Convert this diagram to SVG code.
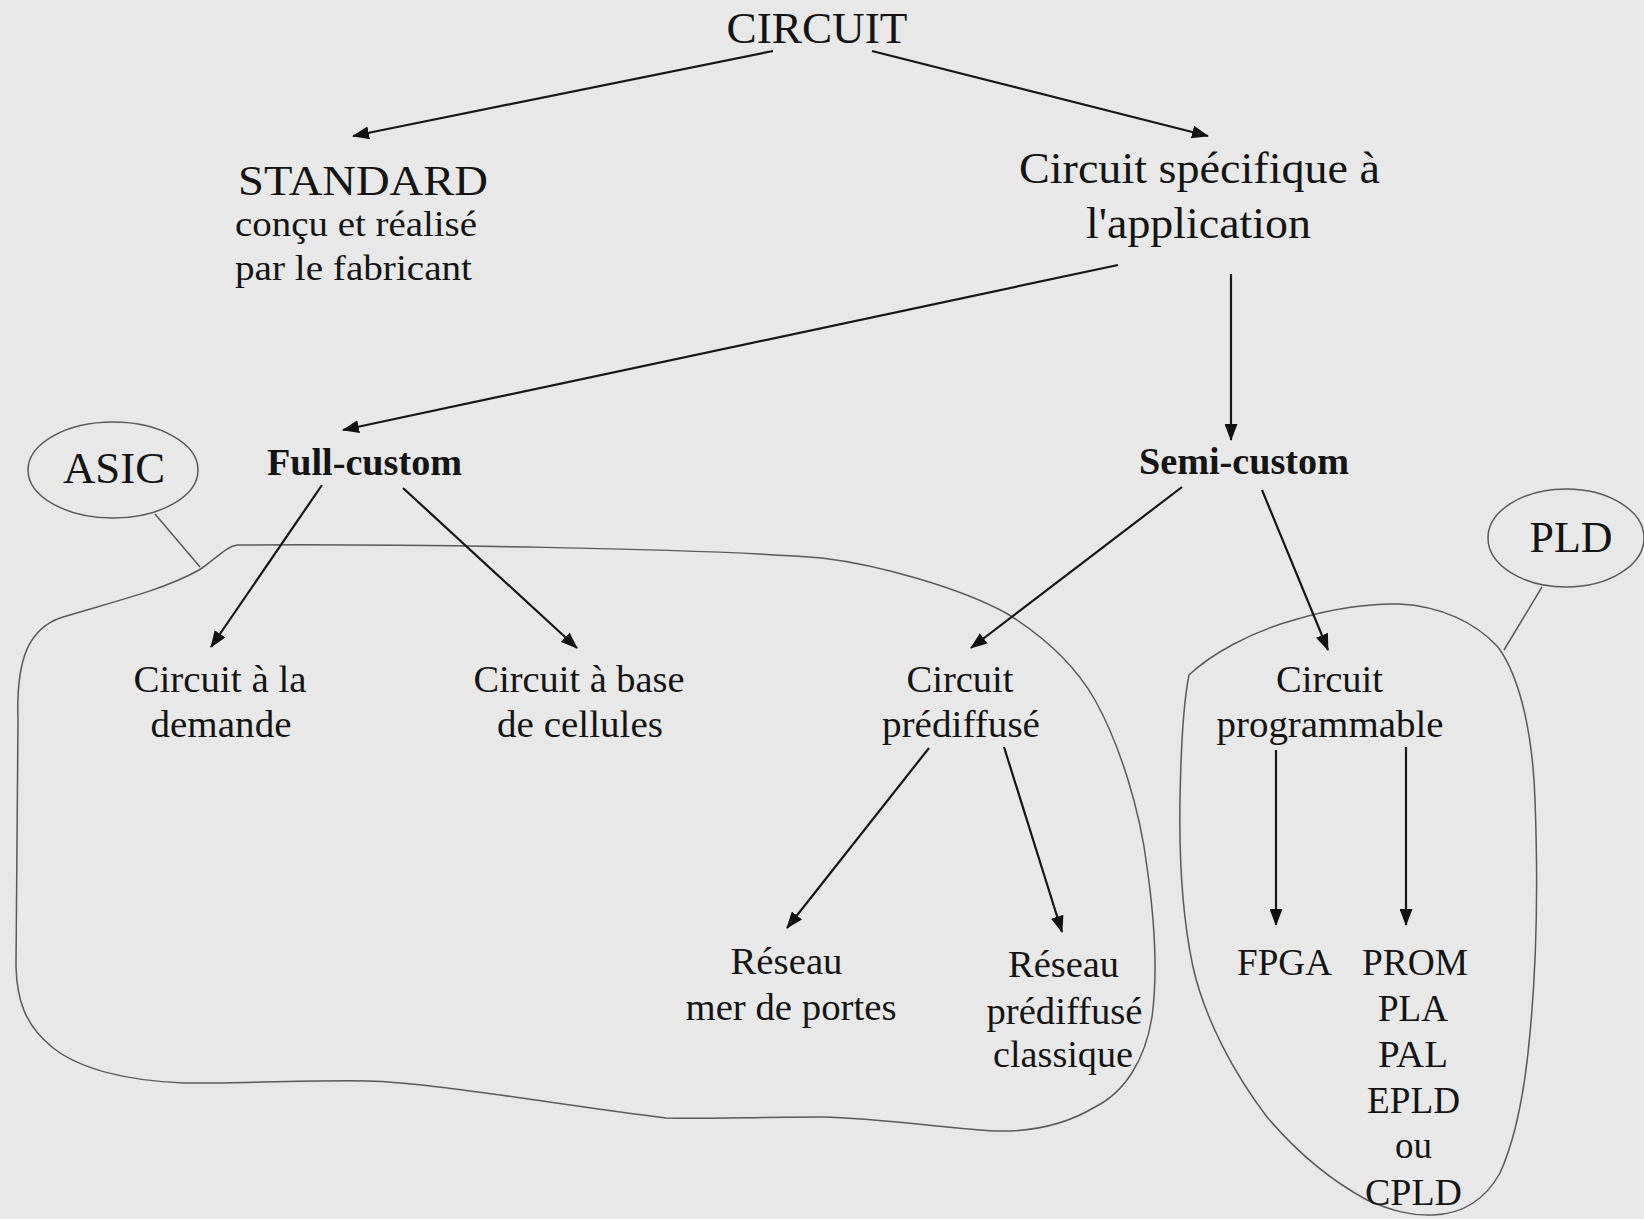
<svg xmlns="http://www.w3.org/2000/svg" width="1644" height="1219" viewBox="0 0 1644 1219">
  <style>
    text { font-family: "Liberation Serif", "Times New Roman", serif; fill: #141414; text-anchor: middle; }
    .big { font-size: 45px; }
    .std { font-size: 42px; }
    .sub { font-size: 35px; }
    .lbl { font-size: 37px; }
    .bold { font-size: 38px; font-weight: bold; }
    .edge { stroke: #161616; stroke-width: 2.2; fill: none; marker-end: url(#arrow); }
    .outline { stroke: #5a5a5a; stroke-width: 1.5; fill: none; }
  </style>
  <defs>
    <marker id="arrow" viewBox="0 0 17 13" refX="16" refY="6.5" markerWidth="17" markerHeight="13" markerUnits="userSpaceOnUse" orient="auto">
      <path d="M0,0 L17,6.5 L0,13 Z" fill="#111"/>
    </marker>
  </defs>

  <rect width="1644" height="1219" fill="#e8e8e8"/>

  <!-- grouping outlines -->
  <g id="asic-group">
    <path class="outline" d="M237,545 C400,544 700,548 822,558 C880,565 960,588 1006,613 C1045,637 1075,665 1095,700 C1120,745 1140,810 1147,867 C1156,930 1157,980 1152,1017 C1145,1060 1125,1092 1095,1107 C1065,1125 1030,1132 995,1131 C950,1129 880,1118 822,1117 C760,1117 700,1119 666,1118 C560,1105 430,1082 367,1081 C300,1080 230,1084 184,1083 C130,1081 80,1070 52,1047 C25,1025 17,1000 16,967 L18,720 C16,660 28,628 63,617 C100,605 160,592 199,570 C215,560 225,547 237,545 Z"/>
    <ellipse class="outline" cx="113" cy="470" rx="85" ry="48"/>
    <line class="outline" x1="155" y1="514" x2="200" y2="567"/>
    <text class="big" x="114" y="483" textLength="102" lengthAdjust="spacingAndGlyphs">ASIC</text>
  </g>
  <g id="pld-group">
    <path class="outline" d="M1189,675 C1210,655 1250,632 1294,620 C1330,609 1370,603 1399,604 C1440,606 1475,622 1498,647 C1522,680 1533,740 1535,800 C1538,880 1537,960 1530,1033 C1525,1090 1515,1140 1500,1173 C1485,1200 1462,1214 1433,1215 C1410,1216 1390,1210 1367,1200 C1330,1180 1295,1150 1267,1117 C1235,1075 1205,1020 1193,967 C1183,920 1179,860 1180,800 C1181,740 1184,700 1189,675 Z"/>
    <ellipse class="outline" cx="1566" cy="538" rx="78" ry="49"/>
    <line class="outline" x1="1542" y1="587" x2="1504" y2="650"/>
    <text class="big" x="1571" y="552" textLength="83" lengthAdjust="spacingAndGlyphs">PLD</text>
  </g>

  <!-- connectors -->
  <g id="connectors">
    <line class="edge" x1="773" y1="51" x2="353" y2="136"/>
    <line class="edge" x1="872" y1="51" x2="1208" y2="136"/>
    <line class="edge" x1="1118" y1="265" x2="343" y2="430"/>
    <line class="edge" x1="1231" y1="274" x2="1231" y2="440"/>
    <line class="edge" x1="322" y1="485" x2="211" y2="647"/>
    <line class="edge" x1="403" y1="488" x2="577" y2="648"/>
    <line class="edge" x1="1182" y1="487" x2="971" y2="648"/>
    <line class="edge" x1="1262" y1="490" x2="1328" y2="650"/>
    <line class="edge" x1="929" y1="748" x2="787" y2="928"/>
    <line class="edge" x1="1004" y1="747" x2="1062" y2="932"/>
    <line class="edge" x1="1276" y1="750" x2="1276" y2="925"/>
    <line class="edge" x1="1406" y1="747" x2="1406" y2="925"/>
  </g>

  <!-- nodes -->
  <g id="circuit">
    <text class="big" x="817" y="43" textLength="181" lengthAdjust="spacingAndGlyphs">CIRCUIT</text>
  </g>
  <g id="standard">
    <text class="std" x="363" y="195" textLength="250" lengthAdjust="spacingAndGlyphs">STANDARD</text>
    <text class="sub" x="356" y="236" textLength="242" lengthAdjust="spacingAndGlyphs">conçu et réalisé</text>
    <text class="sub" x="353.5" y="280" textLength="237" lengthAdjust="spacingAndGlyphs">par le fabricant</text>
  </g>
  <g id="asic-app">
    <text class="big" x="1199.5" y="183" textLength="361" lengthAdjust="spacingAndGlyphs">Circuit spécifique à</text>
    <text class="big" x="1198.5" y="238" textLength="225" lengthAdjust="spacingAndGlyphs">l'application</text>
  </g>
  <g id="full-custom">
    <text class="bold" x="364.5" y="475" textLength="195" lengthAdjust="spacingAndGlyphs">Full-custom</text>
  </g>
  <g id="semi-custom">
    <text class="bold" x="1244" y="474" textLength="210" lengthAdjust="spacingAndGlyphs">Semi-custom</text>
  </g>
  <g id="circuit-demande">
    <text class="lbl" x="220" y="692" textLength="173" lengthAdjust="spacingAndGlyphs">Circuit à la</text>
    <text class="lbl" x="221" y="737" textLength="141" lengthAdjust="spacingAndGlyphs">demande</text>
  </g>
  <g id="circuit-cellules">
    <text class="lbl" x="579" y="692" textLength="211" lengthAdjust="spacingAndGlyphs">Circuit à base</text>
    <text class="lbl" x="580" y="737" textLength="166" lengthAdjust="spacingAndGlyphs">de cellules</text>
  </g>
  <g id="circuit-prediffuse">
    <text class="lbl" x="960" y="692" textLength="107" lengthAdjust="spacingAndGlyphs">Circuit</text>
    <text class="lbl" x="961" y="737" textLength="158" lengthAdjust="spacingAndGlyphs">prédiffusé</text>
  </g>
  <g id="circuit-programmable">
    <text class="lbl" x="1329.5" y="692" textLength="107" lengthAdjust="spacingAndGlyphs">Circuit</text>
    <text class="lbl" x="1330" y="737" textLength="227" lengthAdjust="spacingAndGlyphs">programmable</text>
  </g>
  <g id="reseau-portes">
    <text class="lbl" x="786.5" y="974" textLength="112" lengthAdjust="spacingAndGlyphs">Réseau</text>
    <text class="lbl" x="791" y="1020" textLength="211" lengthAdjust="spacingAndGlyphs">mer de portes</text>
  </g>
  <g id="reseau-classique">
    <text class="lbl" x="1063.5" y="977" textLength="111" lengthAdjust="spacingAndGlyphs">Réseau</text>
    <text class="lbl" x="1064.5" y="1024" textLength="156" lengthAdjust="spacingAndGlyphs">prédiffusé</text>
    <text class="lbl" x="1063" y="1067" textLength="140" lengthAdjust="spacingAndGlyphs">classique</text>
  </g>
  <g id="fpga">
    <text class="lbl" x="1284.5" y="975" textLength="95" lengthAdjust="spacingAndGlyphs">FPGA</text>
  </g>
  <g id="prom-list">
    <text class="lbl" x="1415" y="975" textLength="106" lengthAdjust="spacingAndGlyphs">PROM</text>
    <text class="lbl" x="1413" y="1021" textLength="70" lengthAdjust="spacingAndGlyphs">PLA</text>
    <text class="lbl" x="1413" y="1067" textLength="70" lengthAdjust="spacingAndGlyphs">PAL</text>
    <text class="lbl" x="1413.5" y="1113" textLength="93" lengthAdjust="spacingAndGlyphs">EPLD</text>
    <text class="lbl" x="1413.5" y="1158" textLength="37" lengthAdjust="spacingAndGlyphs">ou</text>
    <text class="lbl" x="1413.5" y="1205" textLength="97" lengthAdjust="spacingAndGlyphs">CPLD</text>
  </g>
</svg>
